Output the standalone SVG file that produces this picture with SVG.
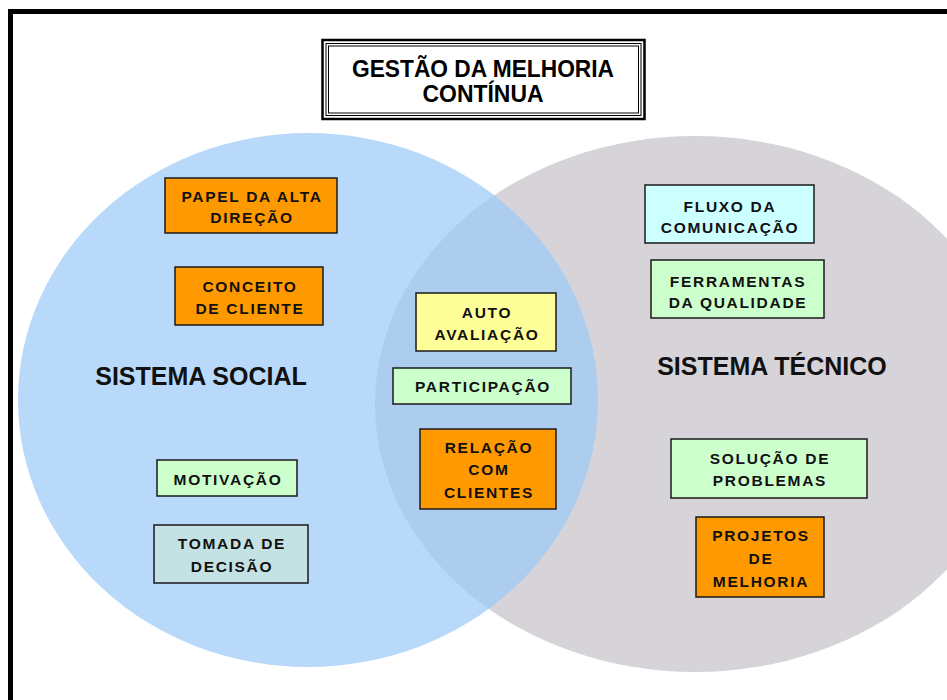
<svg xmlns="http://www.w3.org/2000/svg" width="947" height="700" viewBox="0 0 947 700">
<style>
.box{stroke:#1a1a1a;stroke-width:1.5}
.t{font-family:"Liberation Sans",Arial,sans-serif;font-weight:bold;font-size:15.5px;letter-spacing:1.7px;fill:#111;text-anchor:middle}
.big{font-family:"Liberation Sans",Arial,sans-serif;font-weight:bold;font-size:25px;fill:#111;text-anchor:middle}
.ttl{font-family:"Liberation Sans",Arial,sans-serif;font-weight:bold;font-size:23px;fill:#000;text-anchor:middle}
.or{fill:#ff9900}.ye{fill:#ffff99}.gr{fill:#ccffcc}.cy{fill:#ccffff}.bg{fill:#c4e2e4}
</style>
<rect x="0" y="0" width="947" height="700" fill="#ffffff"/>
<rect x="10.5" y="11.5" width="980" height="740" fill="none" stroke="#000" stroke-width="5"/>
<g id="circles">
<ellipse cx="695" cy="404" rx="320" ry="268" fill="#d6d4d8"/>
<ellipse cx="308" cy="400" rx="290" ry="267" fill="#9ccbf8" fill-opacity="0.72"/>
</g>
<g id="title">
<rect x="322.5" y="40" width="322" height="79" fill="#fff" stroke="#000" stroke-width="2.5"/>
<rect x="326" y="43.5" width="315" height="72" fill="none" stroke="#000" stroke-width="1"/>
<rect x="328.5" y="46" width="310" height="67" fill="none" stroke="#000" stroke-width="1"/>
<text class="ttl" x="483" y="77" textLength="262" lengthAdjust="spacingAndGlyphs">GESTÃO DA MELHORIA</text>
<text class="ttl" x="483" y="102" textLength="121" lengthAdjust="spacingAndGlyphs">CONTÍNUA</text>
</g>
<g id="sistema-social"><text class="big" x="201" y="385">SISTEMA SOCIAL</text></g>
<g id="sistema-tecnico"><text class="big" x="772" y="375">SISTEMA TÉCNICO</text></g>
<g id="papel">
<rect class="box or" x="165" y="178" width="172" height="55"/>
<text class="t" x="252" y="202">PAPEL DA ALTA</text>
<text class="t" x="252" y="223">DIREÇÃO</text>
</g>
<g id="conceito">
<rect class="box or" x="175" y="267" width="148" height="58"/>
<text class="t" x="250" y="292">CONCEITO</text>
<text class="t" x="250" y="314">DE CLIENTE</text>
</g>
<g id="auto">
<rect class="box ye" x="416" y="293" width="140" height="58"/>
<text class="t" x="487" y="318">AUTO</text>
<text class="t" x="487" y="340">AVALIAÇÃO</text>
</g>
<g id="participacao">
<rect class="box gr" x="393" y="368" width="178" height="36"/>
<text class="t" x="483" y="392">PARTICIPAÇÃO</text>
</g>
<g id="relacao">
<rect class="box or" x="420" y="429" width="136" height="80"/>
<text class="t" x="489" y="453">RELAÇÃO</text>
<text class="t" x="489" y="475">COM</text>
<text class="t" x="489" y="498">CLIENTES</text>
</g>
<g id="fluxo">
<rect class="box cy" x="645" y="185" width="169" height="58"/>
<text class="t" x="730" y="212">FLUXO DA</text>
<text class="t" x="730" y="233">COMUNICAÇÃO</text>
</g>
<g id="ferramentas">
<rect class="box gr" x="651" y="260" width="173" height="58"/>
<text class="t" x="738" y="287">FERRAMENTAS</text>
<text class="t" x="738" y="308">DA QUALIDADE</text>
</g>
<g id="motivacao">
<rect class="box gr" x="157" y="460" width="140" height="36"/>
<text class="t" x="228" y="485">MOTIVAÇÃO</text>
</g>
<g id="tomada">
<rect class="box bg" x="154" y="525" width="154" height="58"/>
<text class="t" x="232" y="549">TOMADA DE</text>
<text class="t" x="232" y="572">DECISÃO</text>
</g>
<g id="solucao">
<rect class="box gr" x="671" y="439" width="196" height="59"/>
<text class="t" x="770" y="464">SOLUÇÃO DE</text>
<text class="t" x="770" y="486">PROBLEMAS</text>
</g>
<g id="projetos">
<rect class="box or" x="696" y="517" width="128" height="80"/>
<text class="t" x="761" y="541">PROJETOS</text>
<text class="t" x="761" y="564">DE</text>
<text class="t" x="761" y="587">MELHORIA</text>
</g>
<g id="connectors"/>
</svg>
